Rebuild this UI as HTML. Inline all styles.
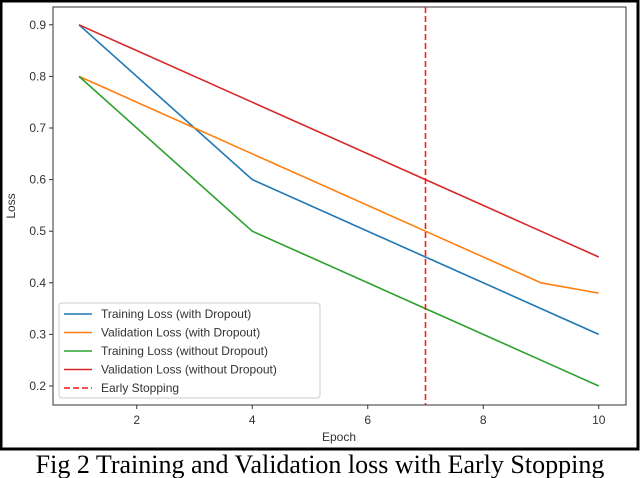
<!DOCTYPE html>
<html><head><meta charset="utf-8"><style>
body{margin:0;background:#fff;width:640px;height:478px;overflow:hidden}
svg{display:block}
</style></head><body>
<svg width="640" height="478" id="c">
<rect x="1" y="1" width="637" height="448" fill="#fff" stroke="#000" stroke-width="3"/>
<rect x="53" y="7" width="573" height="398" fill="#fff" stroke="#333" stroke-width="1"/>
<g id="ticks" font-family="Liberation Sans, sans-serif" font-size="12" fill="#333"></g>
<g id="series"></g>
<text x="339" y="441" text-anchor="middle" font-family="Liberation Sans, sans-serif" font-size="12" fill="#333">Epoch</text>
<text transform="translate(15,206) rotate(-90)" text-anchor="middle" font-family="Liberation Sans, sans-serif" font-size="12" fill="#333">Loss</text>
<g id="legend" font-family="Liberation Sans, sans-serif" font-size="12" fill="#333"></g>
<text x="320" y="473" text-anchor="middle" font-family="Liberation Serif, serif" font-size="26" fill="#000">Fig 2 Training and Validation loss with Early Stopping</text>
</svg>
<script>
const epochs=[1,4,7,9,10];
const trainDrop=[0.9,0.6,0.45,0.35,0.3];
const valDrop=[0.8,0.65,0.5,0.4,0.38];
const trainNo=[0.8,0.5,0.35,0.25,0.2];
const valNo=[0.9,0.75,0.6,0.5,0.45];
const earlyStop=7;
const xTicks=[2,4,6,8,10];
const yTicks=[0.2,0.3,0.4,0.5,0.6,0.7,0.8,0.9];
const names=["Training Loss (with Dropout)","Validation Loss (with Dropout)","Training Loss (without Dropout)","Validation Loss (without Dropout)","Early Stopping"];
const colors=["#1f77b4","#ff7f0e","#2ca02c","#d62728","#ff1a1a"];
const X=v=>79+(v-1)*57.75, Y=v=>386-(v-0.2)*516;
const NS="http://www.w3.org/2000/svg";
function mk(t,a,p){const e=document.createElementNS(NS,t);for(const k in a)e.setAttribute(k,a[k]);p.appendChild(e);return e;}
const tg=document.getElementById('ticks');
xTicks.forEach(v=>{const l=mk('line',{x1:X(v),x2:X(v),y1:405,y2:409,stroke:'#333'},tg);


const t=mk('text',{x:X(v),y:424,'text-anchor':'middle'},tg);t.textContent=v;

});
yTicks.forEach(v=>{const l=mk('line',{x1:49,x2:53,y1:Y(v),y2:Y(v),stroke:'#333'},tg);


const t=mk('text',{x:46,y:Y(v)+4,'text-anchor':'end'},tg);t.textContent=v.toFixed(1);

});
const sg=document.getElementById('series');
[trainDrop,valDrop,trainNo,valNo].forEach((s,i)=>{const p=mk('polyline',{points:epochs.map((e,j)=>X(e)+','+Y(s[j])).join(' '),fill:'none',stroke:colors[i],'stroke-width':1.6},sg);

});
const es=mk('line',{x1:X(earlyStop),x2:X(earlyStop),y1:7,y2:405,stroke:colors[4],'stroke-width':1.6,'stroke-dasharray':'6,3'},sg);


const lg=document.getElementById('legend');
const box=mk('rect',{x:59,y:303,width:261,height:95,rx:3,fill:'#fff',stroke:'#ccc'},lg);


names.forEach((n,i)=>{const y=314+i*18.5;
const l=mk('line',{x1:64,x2:92,y1:y,y2:y,stroke:colors[i],'stroke-width':1.6},lg);
if(i==4)l.setAttribute('stroke-dasharray','6,3');


const t=mk('text',{x:101,y:y+4},lg);t.textContent=n;

});
</script>
</body></html>
